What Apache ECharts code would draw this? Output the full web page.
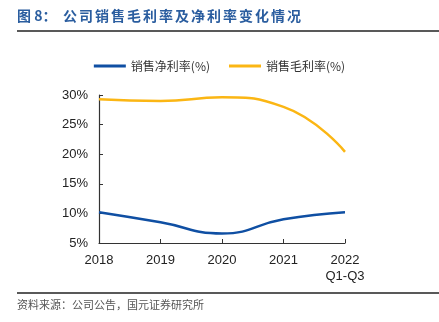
<!DOCTYPE html>
<html><head><meta charset="utf-8">
<script src="https://cdn.jsdelivr.net/npm/echarts@6/dist/echarts.min.js"></script>
<style>html,body{margin:0;padding:0;background:#fff}#c{width:439px;height:322px}</style>
</head><body><div id="c"></div>
<script>
var categories = ['2018', '2019', '2020', '2021', '2022\nQ1-Q3'];
var netMargin = [10.2, 8.5, 6.6, 9.0, 10.2];
var grossMargin = [29.3, 29.0, 29.6, 28.0, 20.4];
var yTicks = [5, 30, 5]; // min, max, interval
var seriesNames = ['销售净利率(%)', '销售毛利率(%)'];
var titlePrefix = '图 8：';
var titleText = '公司销售毛利率及净利率变化情况';
var sourceText = '资料来源：公司公告，国元证券研究所';

var chart = echarts.init(document.getElementById('c'), null, {renderer: 'canvas'});
var cjk = '"Noto Sans CJK SC", sans-serif';
var graphics = [
  {type: 'text', left: 17, top: 9, style: {text: titlePrefix, fill: '#2a5d9f', font: 'bold 14px ' + cjk}},
  {type: 'line', shape: {x1: 17, y1: 31, x2: 439, y2: 31}, style: {stroke: '#222', lineWidth: 1.5}},
  {type: 'line', shape: {x1: 17, y1: 293, x2: 439, y2: 293}, style: {stroke: '#222', lineWidth: 1.5}},
  {type: 'text', left: 17, top: 299, style: {text: sourceText, fill: '#555', font: '11px ' + cjk}}
];
Array.from(titleText).forEach(function (ch, i) {
  graphics.push({type: 'text', left: 63 + i * 16, top: 9, style: {text: ch, fill: '#2a5d9f', font: 'bold 14px ' + cjk}});
});
chart.setOption({
  animation: false,
  backgroundColor: '#fff',
  graphic: graphics,
  legend: {
    top: 55, left: 'center', itemWidth: 32, itemHeight: 3, itemGap: 19, icon: 'rect',
    textStyle: {color: '#333', fontSize: 12, fontFamily: cjk},
    data: seriesNames
  },
  grid: {left: 99, right: 94, top: 95, bottom: 79, containLabel: false},
  xAxis: {
    type: 'category', boundaryGap: false, data: categories,
    axisLine: {lineStyle: {color: '#333', width: 1.2}},
    axisTick: {inside: true, length: 4, lineStyle: {color: '#333'}},
    axisLabel: {color: '#222', fontSize: 13, fontFamily: 'Liberation Sans, Arial', margin: 9, lineHeight: 16}
  },
  yAxis: {
    type: 'value', min: yTicks[0], max: yTicks[1], interval: yTicks[2],
    axisLine: {show: true, lineStyle: {color: '#333', width: 1.2}},
    axisTick: {show: true, inside: true, length: 4, lineStyle: {color: '#333'}},
    splitLine: {show: false},
    axisLabel: {color: '#222', fontSize: 13, fontFamily: 'Liberation Sans, Arial', margin: 11, formatter: '{value}%'}
  },
  series: [
    {name: seriesNames[0], type: 'line', smooth: true, symbol: 'none', data: netMargin,
     lineStyle: {color: '#0f4fa3', width: 2.5}, itemStyle: {color: '#0f4fa3'}},
    {name: seriesNames[1], type: 'line', smooth: true, symbol: 'none', data: grossMargin,
     lineStyle: {color: '#fbb614', width: 2.5}, itemStyle: {color: '#fbb614'}}
  ]
});
</script></body></html>
